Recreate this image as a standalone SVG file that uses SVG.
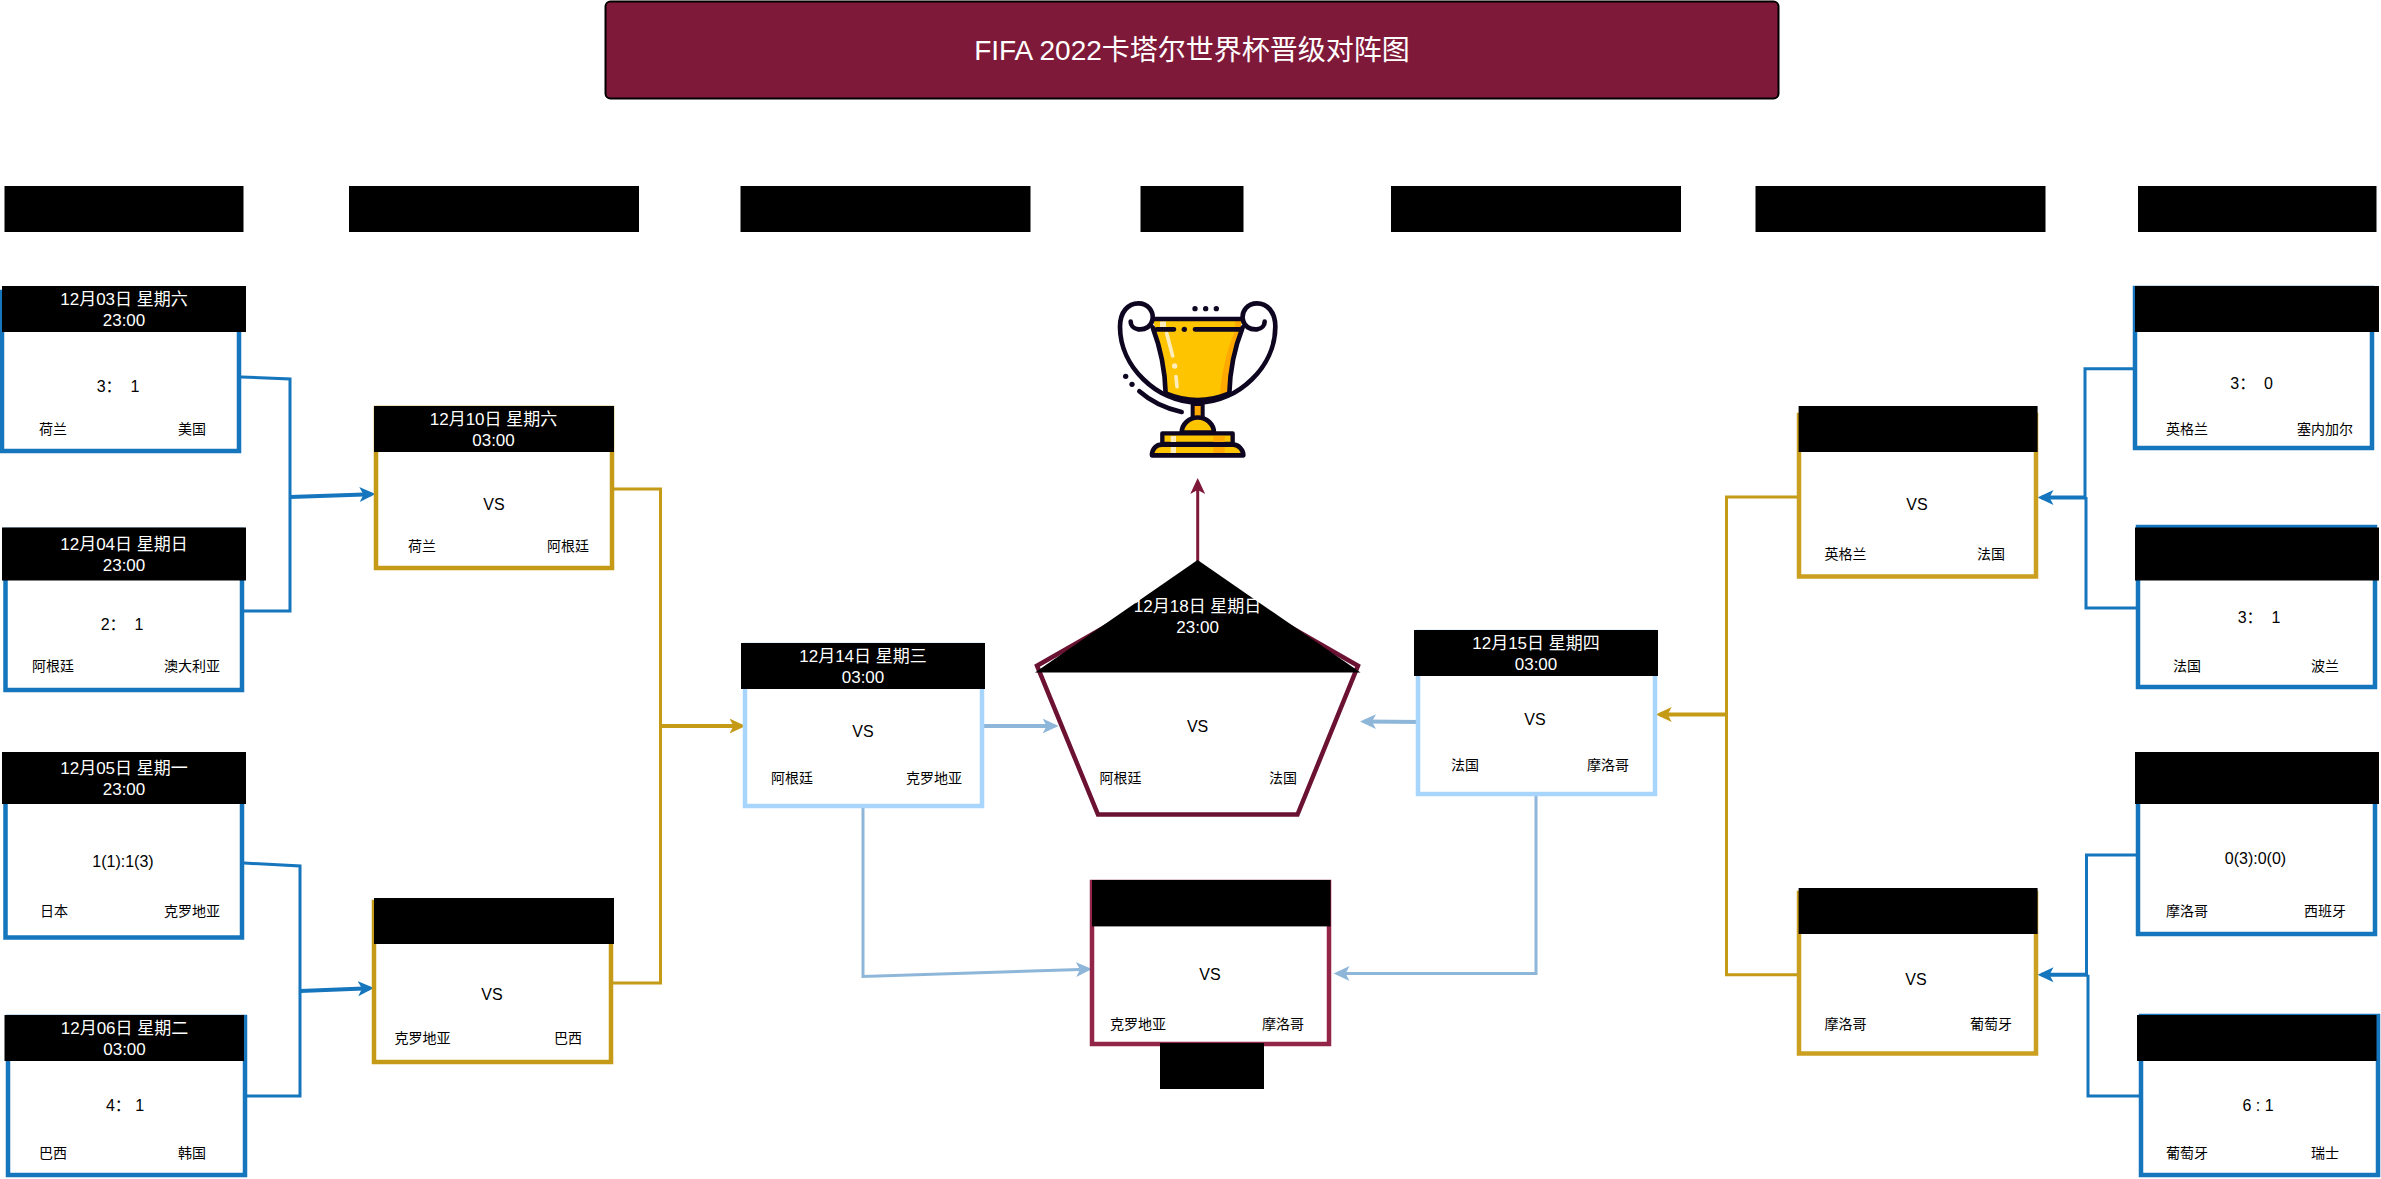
<svg xmlns="http://www.w3.org/2000/svg" width="2381" height="1179" viewBox="0 0 2381 1179">
<style>
text{font-family:"Liberation Sans","Noto Sans CJK SC",sans-serif;text-anchor:middle;dominant-baseline:central;fill:#000}
.hd{font-size:17px;fill:#fff}
.sc{font-size:16px}
.tm{font-size:14px}
.bar{fill:#000}
.box{fill:#fff;stroke-width:4.5}
.blue{stroke:#1575bd}.gold{stroke:#c49a17}.gold2{stroke:#cb9f1f}.sky{stroke:#a8d5fb}.wine{stroke:#932549}
.c{fill:none;stroke-linejoin:miter}
.cb{stroke:#1575bd;stroke-width:3}
.cg{stroke:#c49a17;stroke-width:3}
.cl{stroke:#8db6d9;stroke-width:3}
.a{stroke-width:4}
.t{fill:none;stroke:#0e0620;stroke-width:14;stroke-linecap:round;stroke-linejoin:round}
.y{fill:#ffc400}.o{fill:#ffa800}.h{fill:#ffeebc}
.d{fill:#0e0620}
</style>
<defs>
<marker id="mb" markerUnits="userSpaceOnUse" markerWidth="17" markerHeight="17" refX="12" refY="8.5" orient="auto"><path d="M16,8.5 L0,16 L4,8.5 L0,1 Z" fill="#1575bd"/></marker>
<marker id="mg" markerUnits="userSpaceOnUse" markerWidth="17" markerHeight="17" refX="12" refY="8.5" orient="auto"><path d="M16,8.5 L0,16 L4,8.5 L0,1 Z" fill="#c49a17"/></marker>
<marker id="ml" markerUnits="userSpaceOnUse" markerWidth="17" markerHeight="17" refX="12" refY="8.5" orient="auto"><path d="M16,8.5 L0,16 L4,8.5 L0,1 Z" fill="#8db6d9"/></marker>
<marker id="mw" markerUnits="userSpaceOnUse" markerWidth="17" markerHeight="17" refX="12" refY="8.5" orient="auto"><path d="M16,8.5 L0,16 L4,8.5 L0,1 Z" fill="#7f1939"/></marker>
</defs>
<rect width="2381" height="1179" fill="#fff"/>
<g id="title"><rect x="605.5" y="1.5" width="1173" height="97" rx="5" fill="#7f1939" stroke="#000" stroke-width="2"/><text x="1192" y="50" style="font-size:28px;fill:#fff">FIFA 2022卡塔尔世界杯晋级对阵图</text></g>
<g id="round-headers">
<rect class="bar" x="4.5" y="186" width="239" height="46"/>
<rect class="bar" x="349" y="186" width="290" height="46"/>
<rect class="bar" x="740.5" y="186" width="290" height="46"/>
<rect class="bar" x="1140.5" y="186" width="103" height="46"/>
<rect class="bar" x="1391" y="186" width="290" height="46"/>
<rect class="bar" x="1755.5" y="186" width="290" height="46"/>
<rect class="bar" x="2138" y="186" width="238.5" height="46"/>
</g>
<g id="connectors">
<path class="c cb" d="M241,377 L290,379 V611 H244"/>
<path class="c cb a" d="M290,497 L371.5,494.2" marker-end="url(#mb)"/>
<path class="c cb" d="M244,863 L300,866 V1096 H247"/>
<path class="c cb a" d="M300,991 L370,988.2" marker-end="url(#mb)"/>
<path class="c cg" d="M614,489 H660.5 V983 H612"/>
<path class="c cg a" d="M660.5,726 H741.5" marker-end="url(#mg)"/>
<path class="c cl a" d="M983,726 H1054.6" marker-end="url(#ml)"/>
<path class="c cl a" d="M1421,722 L1364,721.5" marker-end="url(#ml)"/>
<path class="c cl" d="M863,806 V976.4 L1088,969.2" marker-end="url(#ml)"/>
<path class="c cl" d="M1536,794 V973.6 H1337.6" marker-end="url(#ml)"/>
<path class="c cb" d="M2133,368.7 H2085 V497"/>
<path class="c cb" d="M2136,608 H2086 V497"/>
<path class="c cb a" d="M2086,497.5 H2041.5" marker-end="url(#mb)"/>
<path class="c cb" d="M2136,855 H2086.5 V974.7"/>
<path class="c cb" d="M2139,1096 H2088 V974.7"/>
<path class="c cb a" d="M2088,974.7 H2041.5" marker-end="url(#mb)"/>
<path class="c cg" d="M1798,497 H1726.5 V974.7 H1798"/>
<path class="c cg a" d="M1726.5,714.5 H1659.7" marker-end="url(#mg)"/>
<path d="M1197.7,562 V482" fill="none" stroke="#7f1939" stroke-width="3" marker-end="url(#mw)"/>
</g>
<g id="trophy" transform="translate(1000,270) scale(.33333)">
<path class="y" d="M458,150 H728 C705,215 690,290 688,370 Q593,410 497,370 C495,290 480,215 458,150 Z"/>
<path class="o" d="M705,150 H728 C705,215 690,290 688,370 Q675,378 660,382 C665,290 690,215 705,185 Z"/>
<path class="h" d="M480,154 H498 V172 H480 Z"/>
<path d="M500,190 L518,258 M528,320 L531,350" fill="none" stroke="#ffeebc" stroke-width="11" stroke-linecap="round"/>
<circle class="h" cx="524" cy="288" r="8"/>
<path class="t" d="M463,147 H722 M458,172 C480,230 495,290 497,370 Q593,410 688,370 C690,290 705,230 728,172 M470,178 H522 M585,178 H722"/>
<path class="t" d="M590,398 C470,395 360,290 360,170 C360,125 385,100 415,100 C445,100 460,125 458,145 C455,170 435,180 415,178 C400,176 392,165 392,155"/>
<path class="t" d="M596,398 C716,395 826,290 826,170 C826,125 801,100 771,100 C741,100 726,125 728,145 C731,170 751,180 771,178 C786,176 794,165 794,155"/>
<circle class="d" cx="553" cy="178" r="8"/><circle class="d" cx="585" cy="116" r="8"/><circle class="d" cx="617" cy="116" r="8"/><circle class="d" cx="649" cy="116" r="8"/><circle class="d" cx="377" cy="319" r="8"/><circle class="d" cx="396" cy="343" r="8"/>
<path class="t" stroke-width="13" d="M418,364 Q470,410 545,426"/>
<rect class="o" x="578" y="402" width="30" height="44" stroke="#0e0620" stroke-width="12"/>
<path class="y t" style="fill:#ffc400" d="M545,488 A48,45 0 0 1 642,488 Z"/>
<rect class="y" x="487" y="490" width="211" height="32" stroke="#0e0620" stroke-width="13" stroke-linejoin="round"/>
<rect class="h" x="512" y="498" width="16" height="18"/><rect class="o" x="640" y="498" width="34" height="18"/>
<path class="y t" style="fill:#ffc400" d="M456,556 C456,535 470,524 485,524 H700 C716,524 730,540 730,556 Z"/>
<rect class="h" x="512" y="531" width="16" height="18"/><rect class="o" x="640" y="531" width="34" height="18"/>
</g>
<g id="m1"><rect class="box blue" x="2" y="292" width="237" height="159"/><rect class="bar" x="2" y="286" width="244" height="46"/><text class="hd" x="124" y="299.5">12月03日  星期六</text><text class="hd" x="124" y="320.5">23:00</text><text class="sc" x="118" y="386">3：&#160; 1</text><text class="tm" x="53" y="429">荷兰</text><text class="tm" x="192" y="429">美国</text></g>
<g id="m2"><rect class="box blue" x="5.5" y="530" width="236.5" height="160"/><rect class="bar" x="2" y="527.5" width="244" height="53"/><text class="hd" x="124" y="544">12月04日 星期日</text><text class="hd" x="124" y="565">23:00</text><text class="sc" x="122" y="624.6">2：&#160; 1</text><text class="tm" x="53" y="666">阿根廷</text><text class="tm" x="192" y="666">澳大利亚</text></g>
<g id="m3"><rect class="box blue" x="5.5" y="755" width="236.5" height="182.5"/><rect class="bar" x="2" y="752" width="244" height="52"/><text class="hd" x="124" y="768">12月05日 星期一</text><text class="hd" x="124" y="789">23:00</text><text class="sc" x="123" y="861">1(1):1(3)</text><text class="tm" x="54" y="911">日本</text><text class="tm" x="192" y="911">克罗地亚</text></g>
<g id="m4"><rect class="box blue" x="8" y="1017" width="237" height="158"/><rect class="bar" x="4.5" y="1015" width="239.5" height="46"/><text class="hd" x="124.5" y="1028">12月06日 星期二</text><text class="hd" x="124.5" y="1049">03:00</text><text class="sc" x="125" y="1105">4： 1</text><text class="tm" x="53" y="1153">巴西</text><text class="tm" x="192" y="1153">韩国</text></g>
<g id="q1"><rect class="box gold" x="376" y="408" width="236" height="160"/><rect class="bar" x="374" y="406" width="240" height="46"/><text class="hd" x="493.5" y="419">12月10日 星期六</text><text class="hd" x="493.5" y="440">03:00</text><text class="sc" x="494" y="504">VS</text><text class="tm" x="422" y="546">荷兰</text><text class="tm" x="568" y="546">阿根廷</text></g>
<g id="q2"><rect class="box gold" x="374" y="902" width="237" height="160"/><rect class="bar" x="374" y="898" width="240" height="46"/><text class="sc" x="492" y="994">VS</text><text class="tm" x="422.5" y="1038">克罗地亚</text><text class="tm" x="568" y="1038">巴西</text></g>
<g id="s1"><rect class="box sky" x="745" y="645" width="237" height="161"/><rect class="bar" x="741" y="643" width="244" height="46"/><text class="hd" x="863" y="656">12月14日 星期三</text><text class="hd" x="863" y="677.5">03:00</text><text class="sc" x="863" y="731">VS</text><text class="tm" x="792" y="778">阿根廷</text><text class="tm" x="934" y="778">克罗地亚</text></g>
<g id="s2"><rect class="box sky" x="1418" y="632" width="237" height="162"/><rect class="bar" x="1414" y="630" width="244" height="46"/><text class="hd" x="1536" y="643.6">12月15日 星期四</text><text class="hd" x="1536" y="664">03:00</text><text class="sc" x="1535" y="719">VS</text><text class="tm" x="1465" y="765">法国</text><text class="tm" x="1608" y="765">摩洛哥</text></g>
<g id="final"><path d="M1037,665.7 L1197.6,574 L1358,665.7 L1297.5,814.6 L1098,814.6 Z" fill="#fff" stroke="#6b1232" stroke-width="4.5"/><path class="bar" d="M1197.6,560 L1360.5,672.5 H1035 Z"/><text class="hd" x="1197.6" y="606">12月18日 星期日</text><text class="hd" x="1197.6" y="627.5">23:00</text><text class="sc" x="1197.6" y="726">VS</text><text class="tm" x="1120.5" y="778">阿根廷</text><text class="tm" x="1283" y="778">法国</text></g>
<g id="third"><rect class="box wine" x="1092" y="882" width="237" height="162"/><rect class="bar" x="1092" y="880" width="238.5" height="46.4"/><rect class="bar" x="1160" y="1043" width="104" height="46"/><text class="sc" x="1210" y="974">VS</text><text class="tm" x="1138" y="1024">克罗地亚</text><text class="tm" x="1283" y="1024">摩洛哥</text></g>
<g id="q3"><rect class="box gold2" x="1799" y="415" width="237" height="161.5"/><rect class="bar" x="1798.6" y="406" width="239" height="46"/><text class="sc" x="1917" y="504">VS</text><text class="tm" x="1845.5" y="554">英格兰</text><text class="tm" x="1991" y="554">法国</text></g>
<g id="q4"><rect class="box gold2" x="1799" y="893" width="237" height="160.5"/><rect class="bar" x="1798.6" y="888" width="239" height="46"/><text class="sc" x="1916" y="979">VS</text><text class="tm" x="1845.5" y="1024">摩洛哥</text><text class="tm" x="1991" y="1024">葡萄牙</text></g>
<g id="r1"><rect class="box blue" x="2135" y="288" width="237" height="160"/><rect class="bar" x="2135" y="286" width="244" height="46"/><text class="sc" x="2251.6" y="383.5">3：&#160; 0</text><text class="tm" x="2187" y="429">英格兰</text><text class="tm" x="2325" y="429">塞内加尔</text></g>
<g id="r2"><rect class="box blue" x="2138" y="527" width="237" height="160"/><rect class="bar" x="2135" y="527.5" width="244" height="53"/><text class="sc" x="2259" y="617">3：&#160; 1</text><text class="tm" x="2187" y="666">法国</text><text class="tm" x="2325" y="666">波兰</text></g>
<g id="r3"><rect class="box blue" x="2138" y="755" width="237" height="179"/><rect class="bar" x="2135" y="752" width="244" height="52"/><text class="sc" x="2255.5" y="858">0(3):0(0)</text><text class="tm" x="2187" y="911">摩洛哥</text><text class="tm" x="2325" y="911">西班牙</text></g>
<g id="r4"><rect class="box blue" x="2141" y="1016" width="237" height="159"/><rect class="bar" x="2137" y="1015" width="239.5" height="46"/><text class="sc" x="2258" y="1105">6 : 1</text><text class="tm" x="2187" y="1153">葡萄牙</text><text class="tm" x="2325" y="1153">瑞士</text></g>
</svg>
